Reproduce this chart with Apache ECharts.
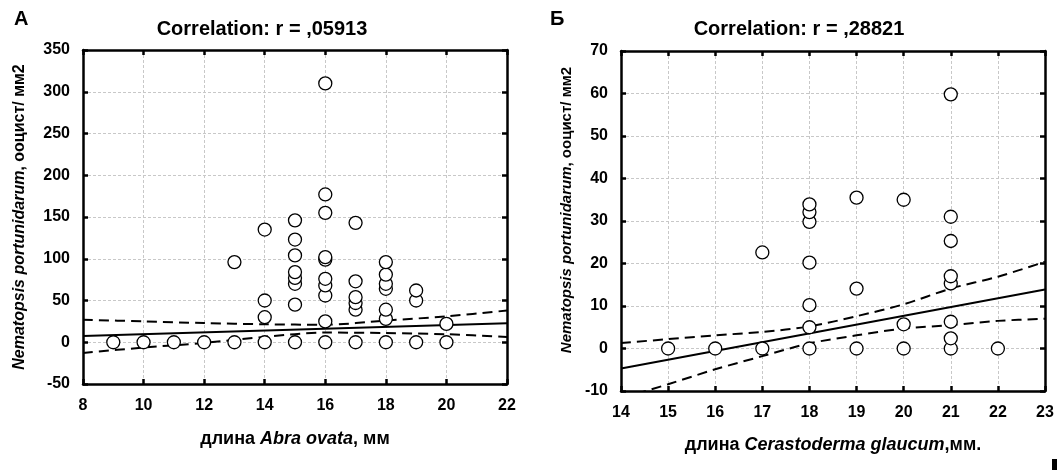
<!DOCTYPE html>
<html><head><meta charset="utf-8">
<script src="https://cdn.jsdelivr.net/npm/echarts@6/dist/echarts.min.js"></script>
<style>html,body{margin:0;padding:0;background:#fff}#c{width:1057px;height:470px}</style>
</head><body><div id="c"></div>
<script>
// Panel A: length of Abra ovata (mm) vs Nematopsis portunidarum oocysts / mm2
const abraLength = [9,10,11,12,13,13,14,14,14,14,15,15,15,15,15,15,15,15,16,16,16,16,16,16,16,16,16,16,17,17,17,17,17,17,18,18,18,18,18,18,18,19,19,19,20,20];
const abraCount  = [0,0,0,0,0,96,0,30,50,135,0,45,70,77,84,104,123,146,0,25,56,68,76,99,102,155,177,310,0,39,47,54,73,143,0,28,39,64,70,81,96,0,50,62,0,22];
const abraFit    = [[8,7.6],[22,22.7]];
const abraBandX  = [8,10,12,14,16,18,20,22];
const abraUpper  = [27,25,23,21.5,21,26,31,38];
const abraLower  = [-12.8,-6.4,-0.8,6.4,11.6,11,9.6,6.4];
// Panel B: length of Cerastoderma glaucum (mm)
const cerLength = [15,16,17,17,18,18,18,18,18,18,18,19,19,19,20,20,20,21,21,21,21,21,21,21,21,22];
const cerCount  = [0,0,0,22.6,0,5,10.2,20.2,29.8,32.1,33.9,0,14.1,35.5,0,5.7,35,0,2.4,6.3,15.3,17,25.3,31,59.8,0];
const cerFit    = [[14,-4.7],[23,13.9]];
const cerBandX  = [14,15,16,17,18,19,20,21,22,23];
const cerUpper  = [1.3,2.2,3.1,3.9,5.2,7.6,10.4,14.1,16.9,20.4];
const cerLower  = [-11.8,-8.4,-4.9,-1.8,1.2,3.1,4.7,5.5,6.5,7];
const xTicksA = {min:8,max:22,interval:2};
const yTicksA = {min:-50,max:350,interval:50};
const xTicksB = {min:14,max:23,interval:1};
const yTicksB = {min:-10,max:70,interval:10};

const FF = '"Liberation Sans", Arial, sans-serif';
const zip = (a,b)=>a.map((v,i)=>[v,b[i]]);
const lbl = {fontFamily:FF,fontWeight:'bold',fontSize:16,color:'#000'};
const splitL = {show:true,lineStyle:{color:'#c8c8c8',type:[3,2],width:1}};
const axLine = {show:true,onZero:false,lineStyle:{color:'#000',width:2.5}};
const tickIn = {show:true,inside:true,length:5,lineStyle:{color:'#000',width:2.5}};

function xAx(grid, t, name, gap, margin){
  return [{type:'value',gridIndex:grid,min:t.min,max:t.max,interval:t.interval,position:'bottom',
    axisLine:axLine,axisTick:tickIn,axisLabel:Object.assign({margin:margin},lbl),splitLine:splitL,
    name:name,nameLocation:'middle',nameGap:gap,
    nameTextStyle:{fontFamily:FF,fontWeight:'bold',fontSize:18,color:'#000',
      rich:{n:{fontFamily:FF,fontWeight:'bold',fontSize:18,color:'#000'},i:{fontFamily:FF,fontWeight:'bold',fontStyle:'italic',fontSize:18,color:'#000'}}}},
   {type:'value',gridIndex:grid,min:t.min,max:t.max,interval:t.interval,position:'top',
    axisLine:axLine,axisTick:tickIn,axisLabel:{show:false},splitLine:{show:false}}];
}
function yAx(grid, t, gap, fs, margin, pad){
  return [{type:'value',gridIndex:grid,min:t.min,max:t.max,interval:t.interval,position:'left',
    axisLine:axLine,axisTick:tickIn,axisLabel:Object.assign({margin:margin},lbl),splitLine:splitL,
    name:'{i|Nematopsis portunidarum}{n|, ооцист/ мм2}',nameLocation:'middle',nameGap:gap,
    nameTextStyle:{padding:pad,rich:{n:{fontFamily:FF,fontWeight:'bold',fontSize:fs,color:'#000'},i:{fontFamily:FF,fontWeight:'bold',fontStyle:'italic',fontSize:fs,color:'#000'}}}},
   {type:'value',gridIndex:grid,min:t.min,max:t.max,interval:t.interval,position:'right',
    axisLine:axLine,axisTick:tickIn,axisLabel:{show:false},splitLine:{show:false}}];
}
function scat(xi,yi,data){return {type:'scatter',xAxisIndex:xi,yAxisIndex:yi,data:data,symbol:'circle',symbolSize:13,
  itemStyle:{color:'#ffffff',opacity:1,borderColor:'#000',borderWidth:1.3},emphasis:{disabled:true},z:5};}
function line(xi,yi,data,dashed){return {type:'line',xAxisIndex:xi,yAxisIndex:yi,data:data,symbol:'none',clip:true,smooth:dashed?0.3:false,
  lineStyle:{color:'#000',width:2,type:dashed?[10,6]:'solid'},z:4};}

const chart = echarts.init(document.getElementById('c'));
chart.setOption({
  animation:false,
  title:[
    {text:'А',left:9,top:4,textStyle:{fontFamily:FF,fontWeight:'bold',fontSize:20,color:'#000'}},
    {text:'Correlation: r = ,05913',left:257,top:14,textAlign:'center',textStyle:{fontFamily:FF,fontWeight:'bold',fontSize:20,color:'#000'}},
    {text:'Б',left:545,top:4,textStyle:{fontFamily:FF,fontWeight:'bold',fontSize:20,color:'#000'}},
    {text:'Correlation: r = ,28821',left:794,top:14,textAlign:'center',textStyle:{fontFamily:FF,fontWeight:'bold',fontSize:20,color:'#000'}}
  ],
  grid:[
    {left:83,right:550,top:50,bottom:86},
    {left:621,right:12,top:51,bottom:79}
  ],
  xAxis:[...xAx(0,xTicksA,'{n|длина }{i|Abra ovata}{n|, мм}',46,14), ...xAx(1,xTicksB,'{n|длина }{i|Cerastoderma glaucum}{n|,мм.}',45,14)],
  yAxis:[...yAx(0,yTicksA,55,16,13,[0,0,0,0]), ...yAx(1,yTicksB,47,15,13,[0,0,0,22])],
  graphic:[{type:'rect',left:1052,top:459,shape:{width:5,height:11},style:{fill:'#000'}}],
  series:[
    scat(0,0,zip(abraLength,abraCount)),
    line(0,0,abraFit,false),
    line(0,0,zip(abraBandX,abraUpper),true),
    line(0,0,zip(abraBandX,abraLower),true),
    scat(2,2,zip(cerLength,cerCount)),
    line(2,2,cerFit,false),
    line(2,2,zip(cerBandX,cerUpper),true),
    line(2,2,zip(cerBandX,cerLower),true)
  ]
});
</script></body></html>
